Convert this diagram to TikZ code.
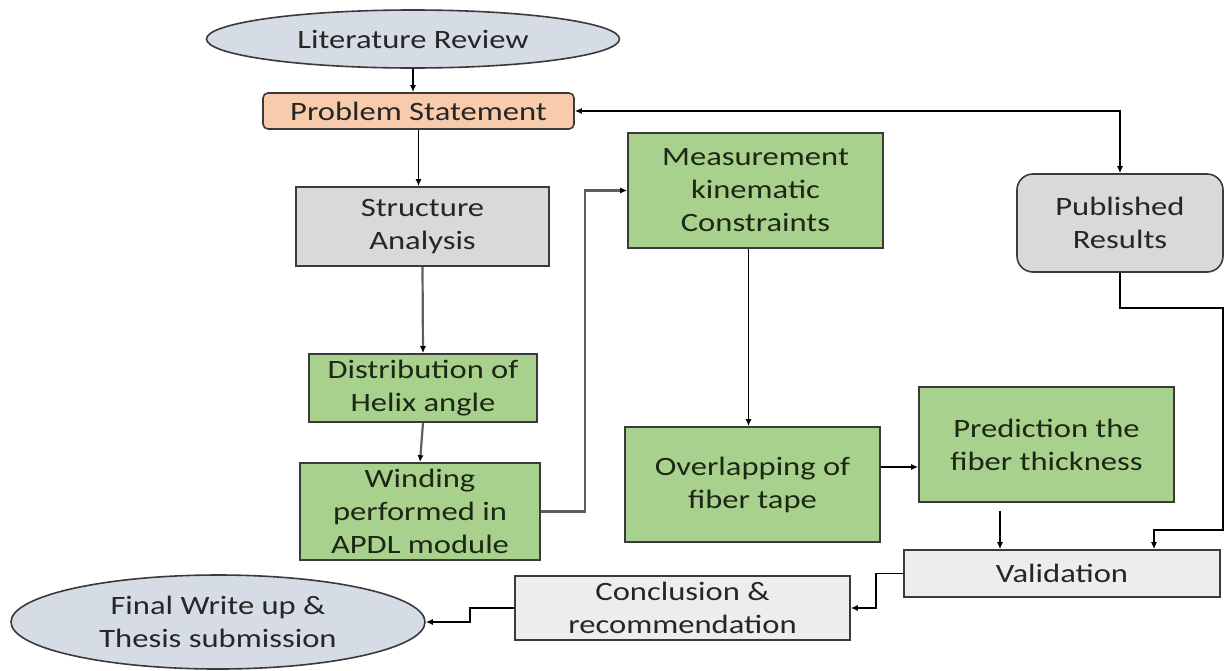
\documentclass[tikz,border=0pt]{standalone}
\usepackage{fontspec}
\setmainfont{Carlito}[FakeStretch=1.23]
\usetikzlibrary{shapes.geometric,arrows.meta}
\definecolor{ellfill}{HTML}{D6DCE5}
\definecolor{psfill}{HTML}{F8CBAD}
\definecolor{grayfill}{HTML}{D9D9D9}
\definecolor{lightfill}{HTML}{EDEDED}
\definecolor{greenfill}{HTML}{A9D18E}
\definecolor{edge}{HTML}{3A3A3A}
\definecolor{txt}{HTML}{262626}
\definecolor{gtxt}{HTML}{1C2814}
\definecolor{lineg}{HTML}{5E5E5E}
\tikzset{
  base/.style={draw=edge, line width=1.6pt, inner sep=0pt, align=center, text=txt,
    font=\fontsize{26.5}{33}\selectfont},
  oval/.style={base, ellipse, fill=ellfill},
  psbox/.style={base, rectangle, rounded corners=5pt, fill=psfill},
  graybox/.style={base, rectangle, fill=grayfill},
  roundgray/.style={base, rectangle, rounded corners=16pt, fill=grayfill},
  lightbox/.style={base, rectangle, fill=lightfill},
  greenbox/.style={base, rectangle, fill=greenfill, text=gtxt},
  arr/.style={draw=black, line width=1.5pt, -{Latex[length=7pt,width=6pt]}},
  arrg/.style={draw=lineg, line width=2.2pt, -{Latex[length=7pt,width=6pt,fill=black,color=black]}},
  conn/.style={draw=black, line width=1.5pt},
}
\begin{document}
\begin{tikzpicture}[x=1pt,y=-1pt]
\useasboundingbox (0,0) rectangle (1225,670);
\fill[white] (0,0) rectangle (1225,670);

\node[oval, minimum width=413, minimum height=58] (lit) at (413,39) {Literature Review};
\node[psbox, minimum width=311, minimum height=36] (ps) at (418.5,111) {Problem Statement};
\node[graybox, minimum width=253, minimum height=79] (sa) at (422.5,226.5) {Structure\\Analysis};
\node[greenbox, minimum width=228, minimum height=68] (dist) at (423,388) {Distribution of\\Helix angle};
\node[greenbox, minimum width=240, minimum height=97] (wind) at (420,511.5) {Winding\\performed in\\APDL module};
\node[greenbox, minimum width=255, minimum height=115] (meas) at (755.5,190.5) {Measurement\\kinematic\\Constraints};
\node[greenbox, minimum width=255, minimum height=115] (over) at (752.5,484.5) {Overlapping of\\fiber tape};
\node[greenbox, minimum width=255, minimum height=115] (pred) at (1046.5,444.5) {Prediction the\\fiber thickness};
\node[roundgray, minimum width=206, minimum height=98] (pub) at (1120,223) {Published\\Results};
\node[lightbox, minimum width=316, minimum height=47] (val) at (1062,573.5) {Validation};
\node[lightbox, minimum width=335, minimum height=64] (conc) at (682.5,608) {Conclusion \&\\recommendation};
\node[oval, minimum width=414, minimum height=94] (fin) at (218,622) {Final Write up \&\\Thesis submission};

\coordinate (c1) at (585,0);
\coordinate (r1) at (1223,308);
\coordinate (r2) at (1154,530);
\coordinate (k1) at (876,0);
\coordinate (k2) at (470,0);

\draw[arr] (lit.south) -- (lit.south |- ps.north);
\draw[arr] (ps.south) -- (ps.south |- sa.north);
\draw[arrg] (sa.south) -- (dist.north);
\draw[arrg] (dist.south) -- (wind.north);
\draw[arrg] (wind.east) -- (c1 |- wind.east) -- (c1 |- meas.west) -- (meas.west);
\draw[arr] ([xshift=-7pt]meas.south) -- ([xshift=-7pt]meas.south |- over.north);
\draw[arr] ([yshift=17.5pt]over.east) -- ([yshift=17.5pt]over.east -| pred.west);
\draw[arr] ([xshift=-46.5pt,yshift=-8pt]pred.south) -- ([xshift=-46.5pt]pred.south |- val.north);
\draw[conn, {Latex[length=7pt,width=6pt]}-{Latex[length=7pt,width=6pt]}] (ps.east) -| (pub.north);
\draw[arr] (pub.south) |- (r1) -- (r1 |- r2) -- (r2) -- (r2 |- val.north);
\draw[arr] (val.west) -- (k1 |- val.west) -- (k1 |- conc.east) -- (conc.east);
\draw[arr] (conc.west) -- (k2 |- conc.west) -- (k2 |- fin.east) -- (fin.east);
\end{tikzpicture}
\end{document}
